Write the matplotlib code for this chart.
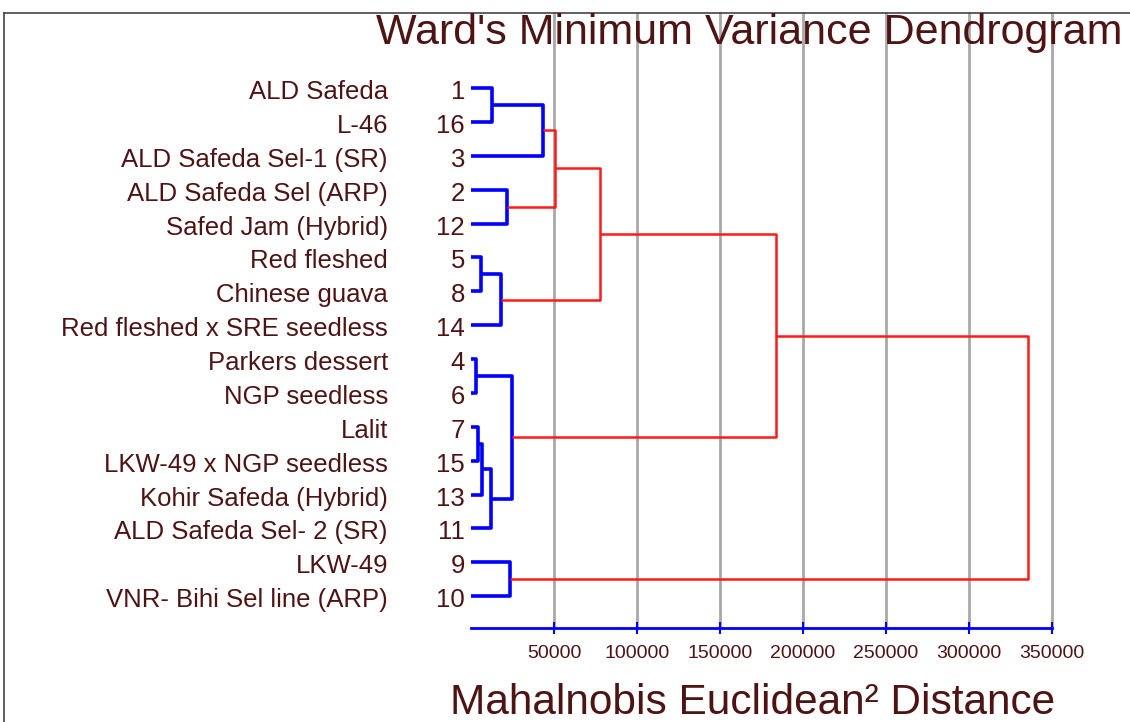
import matplotlib
matplotlib.use('Agg')
import matplotlib.pyplot as plt
from matplotlib.lines import Line2D

plt.rcParams['font.family'] = ['Liberation Sans', 'DejaVu Sans']

# leaf order top to bottom, with the variety names
leaf_ids = [1, 16, 3, 2, 12, 5, 8, 14, 4, 6, 7, 15, 13, 11, 9, 10]
leaf_names = ['ALD Safeda', 'L-46', 'ALD Safeda Sel-1 (SR)', 'ALD Safeda Sel (ARP)',
              'Safed Jam (Hybrid)', 'Red fleshed', 'Chinese guava',
              'Red fleshed x SRE seedless', 'Parkers dessert', 'NGP seedless', 'Lalit',
              'LKW-49 x NGP seedless', 'Kohir Safeda (Hybrid)', 'ALD Safeda Sel- 2 (SR)',
              'LKW-49', 'VNR- Bihi Sel line (ARP)']

# merges: ints are leaf ids, 'mN' is the N-th merge
merge_a = [4, 7, 'm1', 5, 1, 'm2', 'm3', 2, 9, 'm0', 'm4', 'm10', 'm11', 'm12', 'm13']
merge_b = [6, 15, 13, 8, 16, 11, 14, 12, 10, 'm5', 3, 'm7', 'm6', 'm9', 'm8']
merge_dist = [3000, 4500, 6600, 6000, 12500, 12000, 18000, 21700, 23500, 24700,
              43400, 50600, 77700, 183700, 335500]

ticks = [50000, 100000, 150000, 200000, 250000, 300000, 350000]

text_col = '#4e1414'
W, H = 1130, 722

fig = plt.figure(figsize=(W / 100, H / 100), dpi=100)
ax = fig.add_axes([471 / W, 1 - 628 / H, 581 / W, 615 / H])

# node positions: (distance, row)
pos = {}
for i, lid in enumerate(leaf_ids):
    pos[lid] = (0, -i)

for k in range(len(merge_dist)):
    xa, ya = pos[merge_a[k]]
    xb, yb = pos[merge_b[k]]
    h = merge_dist[k]
    if h > 45000:
        col, lw = '#ff1a1a', 1.8
    else:
        col, lw = '#0000ff', 2.6
    ax.plot([xa, h, h, xb], [ya, ya, yb, yb], color=col, lw=lw,
            solid_capstyle='butt', zorder=3)
    pos['m%d' % k] = (h, (ya + yb) / 2)

# labels (text sits a touch below the leaf line)
for i, lid in enumerate(leaf_ids):
    ax.text(-0.0105, -i - 0.12, str(lid), transform=ax.get_yaxis_transform(),
            ha='right', va='center', fontsize=18.5, color=text_col)
    ax.text(-0.143, -i - 0.12, leaf_names[i], transform=ax.get_yaxis_transform(),
            ha='right', va='center', fontsize=18.5, color=text_col)

ax.set_xlim(0, 350000)
ax.set_ylim(-15.94, 2.214)
ax.set_xticks(ticks)
ax.set_xticklabels([str(t) for t in ticks])
ax.set_yticks([])
ax.grid(axis='x', color='#a8a8a8', lw=2, zorder=1)
for gl in ax.get_xgridlines():
    gl.set_clip_on(False)
for s in ['left', 'top', 'right']:
    ax.spines[s].set_visible(False)
ax.spines['bottom'].set_color('#0000ff')
ax.spines['bottom'].set_linewidth(2)
ax.tick_params(axis='x', direction='inout', length=9, width=1.5, color='#0000ff',
               labelcolor=text_col, labelsize=14, pad=8)

fig.text(1122 / W, 1 - 33 / H, "Ward's Minimum Variance Dendrogram", ha='right',
         va='center', fontsize=31, color=text_col)
fig.text(753 / W, 1 - 703 / H, 'Mahalnobis Euclidean\u00b2 Distance', ha='center',
         va='center', fontsize=30.5, color=text_col)

# outer frame
fig.add_artist(Line2D([4 / W, 4 / W], [0, 1 - 13 / H], color='#444444', lw=1.2))
fig.add_artist(Line2D([4 / W, 1], [1 - 13 / H, 1 - 13 / H], color='#444444', lw=1.2))

fig.savefig('out.png', dpi=100)
